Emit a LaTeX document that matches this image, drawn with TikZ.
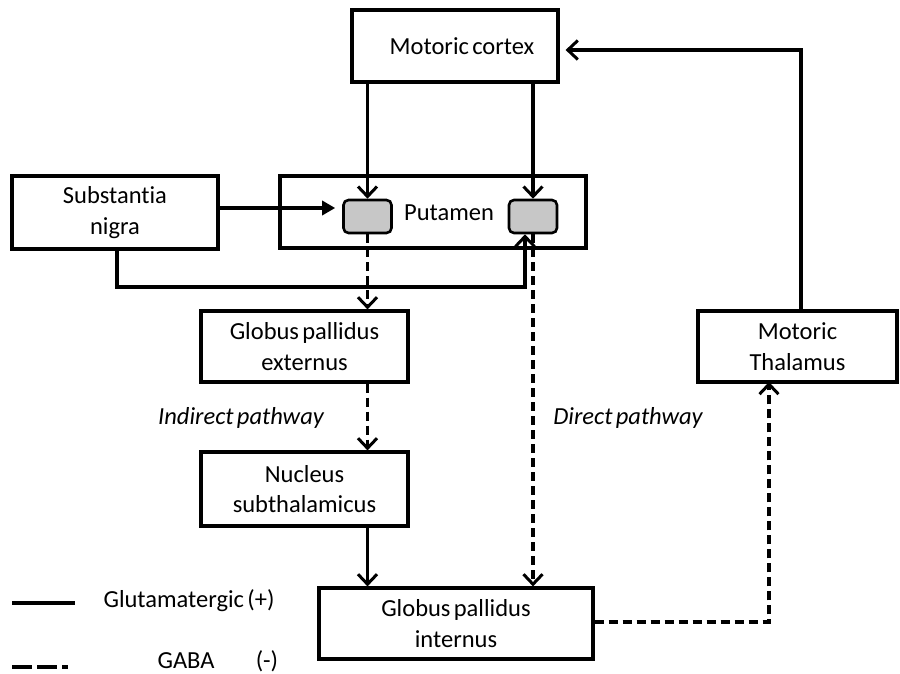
\documentclass[tikz,border=0pt]{standalone}
\usepackage{fontspec}
\setmainfont{Carlito}[Ligatures=NoCommon,WordSpace=0.6]
\usetikzlibrary{arrows.meta,calc}
\begin{document}
\begin{tikzpicture}[x=1pt,y=-1pt,
  box/.style={draw,line width=3.2pt,rectangle,inner sep=0pt,align=center,
     font=\fontsize{24.5}{30.5}\selectfont},
  gbox/.style={draw,line width=2.6pt,rectangle,rounded corners=5pt,fill=black!22,
     minimum width=48pt,minimum height=33pt,inner sep=0pt},
  lbl/.style={inner sep=0pt,font=\fontsize{24.5}{28}\selectfont},
  arr/.style={line width=3.6pt,-{Straight Barb[length=10pt,width=19pt,line width=3pt]}},
  tri/.style={line width=3.6pt,-{Triangle[length=13pt,width=14pt]}},
  sol/.style={line width=4.5pt},
  dasharr/.style={line width=3.8pt,dash pattern=on 9pt off 5pt,
     -{Straight Barb[length=10pt,width=19pt,line width=3pt]}},
]
\useasboundingbox (0,0) rectangle (900,674);

\node[box,minimum width=206pt,minimum height=72pt] (cortex) at (455,46) {\hspace*{14pt}Motoric cortex};
\node[box,minimum width=306pt,minimum height=72pt] (putamen) at (433,212) {};
\node[lbl] (putlbl) at (449,213) {Putamen};
\node[gbox] (g1) at (367.5,216.5) {};
\node[gbox] (g2) at (533,216.5) {};
\node[box,minimum width=206pt,minimum height=73pt] (sn) at (115,212.5) {Substantia\\nigra};
\node[box,minimum width=207pt,minimum height=71pt] (gpe) at (304.5,346.5) {Globus pallidus\\externus};
\node[box,minimum width=207pt,minimum height=74pt] (ns) at (304.5,489) {Nucleus\\subthalamicus};
\node[box,minimum width=274pt,minimum height=71pt] (gpi) at (456,623.5) {Globus pallidus\\internus};
\node[box,minimum width=199pt,minimum height=71pt] (thal) at (797.5,346.5) {Motoric\\Thalamus};

\node[lbl,font=\fontsize{24.5}{28}\selectfont\itshape] (ind) at (241,418) {Indirect pathway};
\node[lbl,font=\fontsize{24.5}{28}\selectfont\itshape] (dir) at (628,418) {Direct pathway};

% connectors
\coordinate (thtop) at (801,311);
\coordinate (ctin) at (801,50);
\draw[arr,shorten >=6pt] (thtop) -- (ctin) -- (ctin -| cortex.east);
\draw[arr] (g1.north |- cortex.south) -- (g1.north);
\draw[arr] (g2.north |- cortex.south) -- (g2.north);
\draw[tri,shorten >=7pt] (sn.east |- 0,208) -- (g1.west |- 0,208);
\coordinate (snk) at (525,287);
\draw[arr] (sn.south -| 117,0) |- (snk) -- (snk |- g2.south);
\draw[dasharr] (g1.south) -- (gpe.north -| g1.south);
\draw[dasharr] (gpe.south -| g1.south) -- (ns.north -| g1.south);
\draw[arr] (ns.south -| g1.south) -- (gpi.north -| g1.south);
\draw[dasharr] (g2.south) -- (gpi.north -| g2.south);
\coordinate (thin) at (769,382);
\draw[dasharr] (gpi.east |- 0,622) -| (thin);

% legend
\coordinate (l1a) at (12,603); \coordinate (l1b) at (75,603);
\draw[sol] (l1a) -- (l1b);
\coordinate (l2a) at (12,667); \coordinate (l2b) at (68,667);
\draw[line width=4.5pt,dash pattern=on 20pt off 5pt] (l2a) -- (l2b);
\node[lbl] (glu) at (189,601) {Glutamatergic (+)};
\node[lbl,anchor=base] (gaba) at (186,668) {GABA};
\node[lbl,anchor=base] (minus) at (267,668) {(-)};
\end{tikzpicture}
\end{document}
